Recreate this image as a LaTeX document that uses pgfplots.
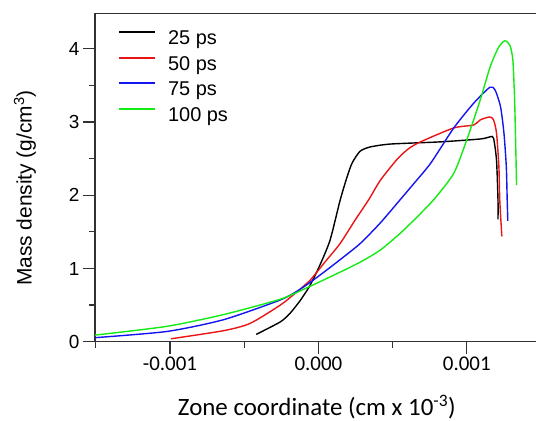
\documentclass[border=0pt]{standalone}
\usepackage{pgfplots}
\pgfplotsset{compat=1.18}
\usepackage{fontspec}
\setmainfont{Liberation Sans}
\newfontfamily\calibri{Carlito}
\definecolor{axgray}{RGB}{50,50,50}
\definecolor{lred}{RGB}{235,20,20}
\definecolor{lblue}{RGB}{20,20,240}
\definecolor{lgreen}{RGB}{20,235,20}
\pgfplotsset{
  legend image code/.code={\draw[#1,line width=2bp] (0bp,7.5bp) -- (36bp,7.5bp);},
}

\begin{document}
\begin{tikzpicture}
\begin{axis}[name=ax,
  scale only axis, width=441bp, height=328.4bp,
  xmin=-1.505, xmax=1.466, ymin=0, ymax=4.486,
  axis lines=left, axis line style={-, axgray, line width=1.4bp},
  clip=false,
  tick align=outside,
  major tick length=12bp, minor tick length=6bp,
  tick style={axgray, line width=1.2bp},
  xtick={-1,0,1}, xticklabels={-0.001,0.000,0.001},
  minor xtick={-1.5,-0.5,0.5},
  ytick={0,1,2,3,4}, yticklabels={0,1,2,3,4},
  minor ytick={0.5,1.5,2.5,3.5},
  xticklabel style={font=\calibri\fontsize{21}{24}\selectfont},
  yticklabel style={font=\fontsize{19}{22}\selectfont},
  xlabel={\calibri Zone coordinate (cm x 10\textsuperscript{-3})},
  xlabel style={font=\fontsize{25}{29}\selectfont, at={(axis description cs:0.503,-0.226)}, anchor=base},
  ylabel={Mass density (g/cm\textsuperscript{3})},
  ylabel style={font=\fontsize{21}{25}\selectfont, at={(axis description cs:-0.159,0.468)}, anchor=center, rotate=0},
  legend style={draw=none, fill=none, at={(axis description cs:0.052,0.957)}, anchor=north west,
    font=\fontsize{20}{24}\selectfont, row sep=1.5bp, column sep=10bp, inner sep=0pt,
    nodes={inner sep=2bp, text height=15bp, text depth=5bp}},
  legend cell align=left,
  every axis plot/.append style={line width=1.4bp},
]
\addplot[black, smooth, tension=0.4] coordinates {
(-0.419,0.10) (-0.257,0.27) (-0.19,0.39) (-0.12,0.57) (-0.056,0.77) (0.011,1.05)
(0.079,1.39) (0.146,1.93) (0.193,2.25) (0.227,2.44) (0.28,2.60) (0.348,2.66)
(0.486,2.70) (0.824,2.73) (1.095,2.77) (1.158,2.80) (1.18,2.78) (1.2,2.48)
(1.21,1.93) (1.21,1.67)
};
\addlegendentry{25 ps}
\addplot[lred, smooth, tension=0.4] coordinates {
(-0.993,0.04) (-0.64,0.15) (-0.46,0.25) (-0.257,0.50) (-0.157,0.66) (-0.056,0.84)
(0.045,1.09) (0.146,1.34) (0.247,1.66) (0.339,1.94) (0.419,2.21) (0.534,2.50)
(0.61,2.64) (0.688,2.73) (0.912,2.92) (1.047,2.96) (1.09,3.03) (1.155,3.07) (1.18,3.03)
(1.2,2.85) (1.216,2.39) (1.222,1.93) (1.236,1.44)
};
\addlegendentry{50 ps}
\addplot[lblue, smooth, tension=0.4] coordinates {
(-1.505,0.055) (-1.02,0.14) (-0.64,0.30) (-0.257,0.57) (-0.12,0.72) (0.011,0.91)
(0.146,1.12) (0.281,1.34) (0.416,1.62) (0.551,1.94) (0.643,2.16) (0.757,2.44)
(0.912,2.92) (1.047,3.26) (1.155,3.475) (1.19,3.44) (1.227,3.21) (1.25,2.85)
(1.266,2.39) (1.272,1.93) (1.276,1.65)
};
\addlegendentry{75 ps}
\addplot[lgreen, smooth, tension=0.4] coordinates {
(-1.505,0.09) (-1.02,0.21) (-0.64,0.37) (-0.257,0.58) (-0.074,0.74) (0.146,0.95)
(0.284,1.09) (0.416,1.25) (0.551,1.48) (0.643,1.66) (0.777,1.94) (0.912,2.30)
(1.0,2.76) (1.09,3.30) (1.158,3.76) (1.216,4.03) (1.256,4.11) (1.29,4.05)
(1.31,3.85) (1.322,3.30) (1.33,2.62) (1.335,2.14)
};
\addlegendentry{100 ps}
\draw[axgray, line width=1.4bp] (rel axis cs:0,1) -- (rel axis cs:1,1);
\end{axis}
\pgfresetboundingbox
\path ([xshift=-95bp,yshift=-79.3bp]ax.south west) rectangle ([yshift=13.3bp]ax.north east);
\end{tikzpicture}
\end{document}
